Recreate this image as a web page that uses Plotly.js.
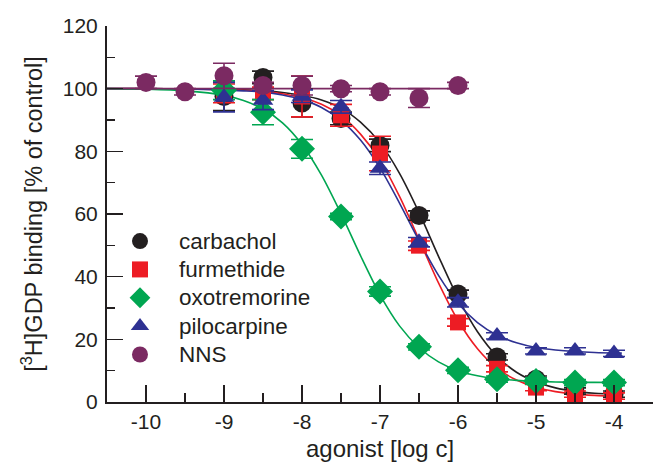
<!DOCTYPE html>
<html>
<head>
<meta charset="utf-8">
<script src="https://cdn.plot.ly/plotly-3.0.1.min.js"></script>
<style>html,body{margin:0;padding:0;background:#fff;}#chart{width:656px;height:463px;}</style>
</head>
<body>
<div id="chart"></div>
<script>
// ---- data ----
var seriesNames = ["carbachol", "furmethide", "oxotremorine", "pilocarpine", "NNS"];

var carbacholX = [-9, -8.5, -8, -7.5, -7, -6.5, -6, -5.5, -5, -4.5, -4];
var carbacholY = [97.5, 103.6, 95.4, 90.5, 81.9, 59.5, 34.5, 14.4, 7.3, 3.5, 2.5];
var carbacholErr = [4.5, 2, 4.4, 2, 2, 1.5, 1.2, 1, 1, 1, 1];

var furmethideX = [-9, -8.5, -8, -7.5, -7, -6.5, -6, -5.5, -5, -4.5, -4];
var furmethideY = [98.5, 98.5, 97.5, 91.5, 79.3, 49.9, 25.4, 10.6, 4.6, 2.5, 1.9];
var furmethideErr = [3, 2, 6.5, 3.5, 5.5, 1.5, 1.2, 1, 1, 1, 1];

var oxotremorineX = [-9, -8.5, -8, -7.5, -7, -6.5, -6, -5.5, -5, -4.5, -4];
var oxotremorineY = [99.5, 92.5, 80.8, 59.2, 35.3, 17.6, 10.1, 7.3, 6.7, 6.2, 6.2];
var oxotremorineErr = [3, 4, 3, 1, 1.5, 1, 1, 1, 1, 1, 1];

var pilocarpineX = [-9, -8.5, -8, -7.5, -7, -6.5, -6, -5.5, -5, -4.5, -4];
var pilocarpineY = [97.3, 96.3, 97.6, 94.2, 74.6, 51.0, 31.8, 21.1, 16.3, 16.3, 15.5];
var pilocarpineErr = [4.7, 3, 2, 2, 2, 1.5, 1.5, 1, 1, 1, 1];

var nnsX = [-10, -9.5, -9, -8.5, -8, -7.5, -7, -6.5, -6];
var nnsY = [102.0, 99.0, 104.1, 101.0, 101.0, 100.0, 99.0, 97.0, 101.0];
var nnsErr = [2, 1, 4, 1, 3, 1, 1, 3, 1];

// fitted curves as traced on the picture
var fitX = [-10.5, -10, -9.5, -9, -8.75, -8.5, -8.25, -8, -7.75, -7.5, -7.25, -7, -6.75, -6.5, -6.25, -6, -5.75, -5.5, -5.25, -5, -4.75, -4.5, -4.25, -3.9];
var carbacholFit = [100, 100, 99.9, 99.8, 99.6, 99.3, 98.8, 97.9, 96.4, 93.8, 89.3, 82.7, 73.0, 60.5, 46.5, 33.2, 22.4, 14.6, 9.5, 6.4, 4.5, 3.4, 2.8, 2.4];
var furmethideFit = [100, 100, 99.9, 99.7, 99.5, 99.1, 98.4, 97.1, 95.0, 91.4, 85.5, 77.2, 65.6, 51.9, 38.0, 26.0, 17.0, 10.8, 7.0, 4.7, 3.3, 2.5, 2.1, 1.8];
var pilocarpineFit = [100, 100, 99.9, 99.6, 99.3, 98.9, 98.0, 96.5, 94.0, 89.9, 83.6, 74.7, 63.5, 51.5, 40.4, 31.5, 25.3, 21.3, 18.9, 17.4, 16.6, 16.1, 15.8, 15.6];
var oxotremorineFit = [100, 99.8, 99.3, 97.9, 96.2, 93.5, 89.1, 82.2, 72.4, 60.1, 46.7, 34.2, 24.3, 17.4, 12.8, 10.0, 8.4, 7.4, 6.9, 6.6, 6.4, 6.3, 6.25, 6.2];
var nnsFitX = [-10.5, -5.9];
var nnsFit = [100, 100];

var xTickVals = [-10, -9, -8, -7, -6, -5, -4];
var xTickText = ["-10", "-9", "-8", "-7", "-6", "-5", "-4"];
var yTickVals = [0, 20, 40, 60, 80, 100, 120];
var yTickText = ["0", "20", "40", "60", "80", "100", "120"];

// ---- styles ----
var colors = {carbachol: "#231f20", furmethide: "#ed1c24", oxotremorine: "#00a651", pilocarpine: "#2e3192", NNS: "#7b2a62"};
var font = "Liberation Sans, Arial, Helvetica, sans-serif";

function fitTrace(x, y, c) {
  return {x: x, y: y, mode: "lines", type: "scatter", showlegend: false, hoverinfo: "skip",
          line: {color: c, width: 1.6, shape: "spline", smoothing: 0.8}};
}
function dataTrace(name, x, y, e, sym, size, c) {
  return {x: x, y: y, name: '<span style="font-size:22.5px">' + name + '</span>', mode: "markers", type: "scatter",
          marker: {symbol: sym, size: size, color: c, line: {width: 0}},
          error_y: {type: "data", array: e, visible: true, color: c, thickness: 1.6, width: 11}};
}

var traces = [
  fitTrace(fitX, carbacholFit, colors.carbachol),
  fitTrace(fitX, furmethideFit, colors.furmethide),
  fitTrace(fitX, pilocarpineFit, colors.pilocarpine),
  fitTrace(fitX, oxotremorineFit, colors.oxotremorine),
  fitTrace(nnsFitX, nnsFit, colors.NNS),
  dataTrace(seriesNames[0], carbacholX, carbacholY, carbacholErr, "circle", 19, colors.carbachol),
  dataTrace(seriesNames[1], furmethideX, furmethideY, furmethideErr, "square", 16, colors.furmethide),
  dataTrace(seriesNames[2], oxotremorineX, oxotremorineY, oxotremorineErr, "diamond", 20, colors.oxotremorine),
  dataTrace(seriesNames[3], pilocarpineX, pilocarpineY, pilocarpineErr, "triangle-up", 18, colors.pilocarpine),
  dataTrace(seriesNames[4], nnsX, nnsY, nnsErr, "circle", 19, colors.NNS)
];

var layout = {
  width: 656, height: 463,
  margin: {l: 107, r: 3, t: 26, b: 61, pad: 0},
  paper_bgcolor: "#fff", plot_bgcolor: "#fff",
  font: {family: font, color: "#231f20", size: 21},
  showlegend: true,
  legend: {x: -0.011, y: 0.479, xanchor: "left", yanchor: "top", bgcolor: "rgba(0,0,0,0)",
           itemwidth: 68, font: {size: 19.5, family: font, color: "#231f20"}, tracegroupgap: 0, traceorder: "normal"},
  xaxis: {range: [-10.5, -3.5], tickmode: "array", tickvals: xTickVals, ticktext: xTickText,
          showline: true, linecolor: "#231f20", linewidth: 2, showgrid: false, zeroline: false,
          ticks: "inside", ticklen: 17, tickwidth: 1.6, tickcolor: "#231f20",
          tickfont: {size: 21, family: font, color: "#231f20"},
          minor: {ticks: "inside", ticklen: 9, tickwidth: 1.6, tickcolor: "#231f20", dtick: 0.5, tick0: -10.5, showgrid: false},
          title: {text: "agonist [log c]", font: {size: 24, family: font, color: "#231f20"}, standoff: 8}},
  yaxis: {range: [0, 120], tickmode: "array", tickvals: yTickVals, ticktext: yTickText,
          showline: true, linecolor: "#231f20", linewidth: 2, showgrid: false, zeroline: false,
          ticks: "inside", ticklen: 16, tickwidth: 1.6, tickcolor: "#231f20",
          tickfont: {size: 21, family: font, color: "#231f20"}, ticklabelstandoff: 3,
          minor: {ticks: "inside", ticklen: 8, tickwidth: 1.6, tickcolor: "#231f20", dtick: 10, tick0: 0, showgrid: false},
          title: {text: "[<sup>3</sup>H]GDP binding [% of control]", font: {size: 23.5, family: font, color: "#231f20"}, standoff: 14}}
};

Plotly.newPlot("chart", traces, layout, {displayModeBar: false, staticPlot: true});
</script>
</body>
</html>
